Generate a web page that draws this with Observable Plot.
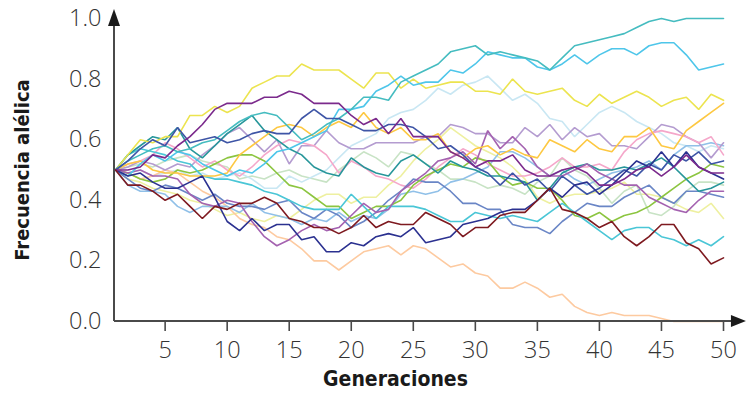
<!DOCTYPE html>
<html><head><meta charset="utf-8">
<script src="https://cdn.jsdelivr.net/npm/d3@7"></script>
<script src="https://cdn.jsdelivr.net/npm/@observablehq/plot@0.6"></script>
<style>
body{margin:0;background:#fff;}
</style></head><body><div id="chart"></div>
<script>
const generations = [1,2,3,4,5,6,7,8,9,10,11,12,13,14,15,16,17,18,19,20,21,22,23,24,25,26,27,28,29,30,31,32,33,34,35,36,37,38,39,40,41,42,43,44,45,46,47,48,49,50];

const tealRun = [.50,.53,.55,.57,.58,.56,.57,.59,.60,.63, .66,.68,.69,.68,.64,.60,.62,.65,.67,.70, .74,.74,.73,.79,.81,.83,.85,.89,.90,.91, .88,.89,.88,.87,.86,.83,.87,.91,.92,.93, .94,.95,.97,.99,1.0,.99,1.0,1.0,1.0,1.0];
const cyanRun = [.50,.48,.52,.55,.53,.56,.55,.52,.50,.48, .50,.49,.52,.56,.57,.59,.61,.63,.70,.70, .71,.76,.78,.81,.78,.79,.79,.83,.82,.85, .89,.88,.87,.87,.84,.83,.85,.88,.85,.88, .90,.90,.88,.91,.92,.92,.88,.83,.84,.85];
const yellowRun = [.50,.55,.60,.59,.61,.61,.68,.68,.71,.69, .71,.77,.79,.81,.81,.85,.83,.83,.83,.80, .77,.82,.82,.77,.80,.77,.78,.79,.79,.76, .76,.75,.80,.76,.75,.76,.77,.73,.71,.75, .72,.74,.76,.74,.71,.73,.74,.70,.75,.73];
const purpleRun = [.50,.50,.51,.55,.54,.58,.61,.65,.70,.72, .72,.72,.74,.74,.76,.75,.72,.72,.72,.68, .65,.67,.62,.67,.61,.61,.61,.56,.54,.51, .53,.53,.55,.50,.48,.48,.50,.51,.49,.45, .45,.47,.50,.51,.48,.51,.55,.51,.49,.49];
const paleBlueRun = [.50,.49,.50,.48,.49,.50,.48,.49,.47,.48, .49,.47,.44,.44,.48,.46,.48,.50,.54,.58, .60,.62,.67,.69,.70,.73,.77,.75,.78,.79, .81,.77,.73,.75,.72,.67,.66,.61,.65,.69, .71,.69,.66,.64,.62,.59,.58,.56,.58,.57];
const orangeRun = [.50,.52,.53,.50,.49,.49,.48,.48,.48,.49, .55,.58,.61,.64,.65,.64,.61,.64,.66,.64, .69,.64,.62,.64,.60,.60,.62,.56,.54,.57, .58,.55,.57,.55,.54,.60,.58,.56,.60,.57, .56,.61,.61,.64,.58,.57,.63,.66,.69,.72];
const salmonRun = [.50,.49,.47,.48,.50,.49,.46,.43,.41,.38, .34,.32,.31,.28,.27,.24,.20,.20,.17,.20, .23,.24,.25,.22,.25,.24,.21,.18,.19,.16, .15,.11,.11,.13,.11,.08,.09,.05,.03,.02, .03,.02,.02,.02,.01,0,0,0,0,0];
const darkRedRun = [.50,.45,.45,.43,.40,.42,.38,.34,.38,.37, .39,.39,.41,.39,.34,.33,.31,.31,.29,.31, .35,.31,.33,.32,.32,.36,.34,.32,.28,.31, .31,.35,.36,.36,.40,.44,.37,.36,.34,.31, .33,.28,.25,.28,.32,.32,.26,.24,.19,.21];
const navyRun = [.50,.48,.49,.46,.44,.44,.46,.48,.41,.33, .30,.34,.30,.32,.32,.27,.28,.23,.23,.26, .25,.28,.29,.28,.31,.26,.27,.28,.32,.33, .34,.36,.37,.37,.40,.44,.41,.45,.46,.42, .45,.49,.53,.51,.56,.51,.56,.51,.49,.47];
const royalRun = [.50,.53,.57,.60,.58,.64,.59,.60,.61,.59, .60,.62,.63,.62,.62,.67,.70,.67,.67,.65, .63,.63,.65,.65,.64,.61,.57,.58,.55,.51, .49,.45,.49,.45,.47,.43,.48,.45,.42,.44, .47,.50,.48,.52,.50,.55,.53,.56,.52,.53];
const lavenderRun = [.50,.51,.53,.52,.50,.52,.51,.55,.58,.62, .64,.60,.56,.60,.52,.58,.58,.63,.59,.57, .57,.59,.59,.59,.59,.61,.61,.65,.64,.62, .62,.59,.59,.64,.61,.65,.60,.64,.61,.62, .58,.58,.57,.61,.65,.64,.61,.59,.54,.59];
const pinkRun = [.50,.52,.53,.55,.59,.57,.54,.51,.53,.50, .48,.51,.55,.58,.60,.59,.58,.55,.49,.53, .51,.48,.47,.45,.44,.47,.51,.54,.57,.55, .52,.50,.48,.48,.49,.51,.54,.51,.51,.52, .50,.56,.60,.62,.63,.62,.61,.59,.61,.55];
const skyRun = [.50,.45,.43,.43,.42,.38,.36,.38,.38,.38, .36,.39,.36,.35,.34,.32,.34,.33,.36,.33, .35,.34,.37,.42,.43,.42,.43,.46,.47,.49, .51,.56,.56,.54,.51,.48,.50,.47,.45,.47, .49,.50,.51,.53,.50,.55,.58,.58,.59,.58];
const greenRun = [.50,.49,.47,.46,.47,.50,.49,.50,.52,.54, .55,.55,.53,.49,.45,.44,.41,.38,.38,.34, .36,.38,.38,.40,.45,.48,.50,.52,.51,.54, .53,.48,.45,.46,.44,.44,.40,.35,.34,.36, .33,.35,.36,.38,.41,.44,.47,.49,.52,.51];
const paleGreenRun = [.50,.51,.52,.51,.53,.54,.55,.53,.52,.51, .47,.48,.47,.49,.50,.48,.47,.46,.50,.53, .56,.54,.51,.56,.55,.52,.50,.47,.47,.46, .44,.45,.44,.42,.46,.48,.54,.50,.48,.44, .39,.43,.45,.36,.35,.38,.43,.46,.46,.45];
const mauveRun = [.50,.49,.50,.48,.48,.47,.42,.39,.38,.40, .39,.33,.28,.25,.27,.30,.32,.30,.31,.35, .39,.36,.37,.43,.46,.49,.53,.54,.56,.52, .63,.57,.61,.57,.51,.48,.48,.50,.52,.49, .47,.45,.45,.41,.39,.37,.36,.40,.43,.43];
const slateRun = [.50,.47,.44,.43,.45,.44,.42,.40,.42,.39, .38,.38,.37,.39,.40,.36,.34,.37,.35,.31, .33,.36,.40,.43,.47,.46,.46,.43,.39,.39, .37,.37,.32,.31,.31,.29,.33,.36,.39,.38, .38,.41,.43,.45,.41,.39,.43,.43,.42,.41];
const paleYellowRun = [.50,.47,.46,.44,.43,.42,.40,.39,.37,.35, .36,.34,.33,.35,.34,.37,.40,.42,.42,.39, .41,.41,.45,.48,.53,.57,.60,.64,.61,.58, .56,.54,.51,.47,.41,.39,.41,.42,.42,.43, .44,.46,.42,.42,.41,.39,.37,.36,.39,.34];
const cyan2Run = [.50,.55,.57,.56,.55,.53,.52,.48,.47,.47, .46,.45,.43,.42,.40,.38,.37,.37,.37,.42, .38,.34,.38,.38,.38,.37,.35,.33,.33,.36, .35,.34,.35,.34,.33,.36,.39,.36,.33,.30, .27,.30,.31,.31,.28,.27,.25,.27,.25,.28];
const darkTealRun = [.50,.55,.58,.61,.60,.64,.57,.54,.58,.62, .65,.68,.63,.60,.57,.55,.51,.49,.48,.54, .51,.49,.48,.53,.55,.52,.49,.53,.51,.50, .48,.48,.47,.46,.40,.44,.49,.51,.52,.50, .50,.51,.50,.52,.54,.51,.47,.43,.44,.46];

const runNames = ["paleYellow","paleGreen","paleBlue","salmon","sky","lavender","pink","slate","green","cyan2","darkTeal","mauve","orange","yellow","cyan","teal","royal","navy","purple","darkRed"];
const runColors = ["#eef0a0","#c8e3c5","#c9e7f3","#fdcaa0","#90c0e8","#b49cd0","#f5a7ca","#6a86c6","#8cc540","#4ac6d6","#27969a","#a462b0","#fdc842","#ece44f","#4ec6ea","#45bcc0","#3e55a6","#2b3190","#7b2a8c","#7e1a20"];
const runValues = [paleYellowRun,paleGreenRun,paleBlueRun,salmonRun,skyRun,lavenderRun,pinkRun,slateRun,greenRun,cyan2Run,darkTealRun,mauveRun,orangeRun,yellowRun,cyanRun,tealRun,royalRun,navyRun,purpleRun,darkRedRun];

const yTicks = [0, 0.2, 0.4, 0.6, 0.8, 1.0];
const xTicks = [5,10,15,20,25,30,35,40,45,50];
const xTitle = "Generaciones";
const yTitle = "Frecuencia alélica";

const rows = runValues.flatMap((vals, i) => vals.map((v, j) => ({gen: generations[j], freq: v, run: runNames[i]})));

const axisColor = "#4a4a4a";
const arrows = (index, {x, y}) => {
  const g = d3.create("svg:g");
  const ax = x(1) - 1, ay = y(0);
  const topY = y(1.03), rightX = x(51.85);
  g.append("line").attr("x1", ax).attr("x2", ax).attr("y1", ay).attr("y2", topY + 8).attr("stroke", axisColor).attr("stroke-width", 2);
  g.append("line").attr("x1", ax).attr("x2", rightX - 8).attr("y1", ay).attr("y2", ay).attr("stroke", axisColor).attr("stroke-width", 2);
  g.append("path").attr("d", `M${ax},${topY} L${ax-6},${topY+17} L${ax+6},${topY+17} Z`).attr("fill", "#1a1a1a");
  g.append("path").attr("d", `M${rightX},${ay} L${rightX-15},${ay-6} L${rightX-15},${ay+6} Z`).attr("fill", "#1a1a1a");
  return g.node();
};

const chart = Plot.plot({
  width: 747, height: 395,
  marginLeft: 115, marginRight: 24, marginTop: 18, marginBottom: 74,
  x: {domain: [1, 50]},
  y: {domain: [0, 1]},
  color: {domain: runNames, range: runColors},
  style: {fontFamily: "'Open Sans', sans-serif", background: "#fff", overflow: "visible"},
  marks: [
    Plot.line(rows, {x: "gen", y: "freq", z: "run", stroke: "run", strokeWidth: 1.6, strokeLinejoin: "miter"}),
    arrows,
    Plot.axisY({ticks: yTicks, tickSize: 0, tickPadding: 14, tickFormat: d3.format(".1f"), fontSize: 23.5, fontWeight: 300, fill: "#333", label: null}),
    Plot.axisX({ticks: xTicks, tickSize: 10, tickPadding: 10, fontSize: 23.5, fontWeight: 300, fill: "#333", stroke: axisColor, strokeWidth: 1.6, label: null}),
    Plot.text([xTitle], {frameAnchor: "bottom", textAnchor: "middle", dx: -24, dy: 64, fontSize: 21, fontWeight: "bold", fontFamily: "'DejaVu Sans Condensed', 'DejaVu Sans', sans-serif", fill: "#1a1a1a"}),
    Plot.text([yTitle], {frameAnchor: "left", textAnchor: "middle", dx: -93, dy: 0, rotate: -90, fontSize: 20, fontWeight: "bold", fontFamily: "'DejaVu Sans Condensed', 'DejaVu Sans', sans-serif", fill: "#1a1a1a"})
  ]
});
document.getElementById("chart").append(chart);
</script>
</body></html>
